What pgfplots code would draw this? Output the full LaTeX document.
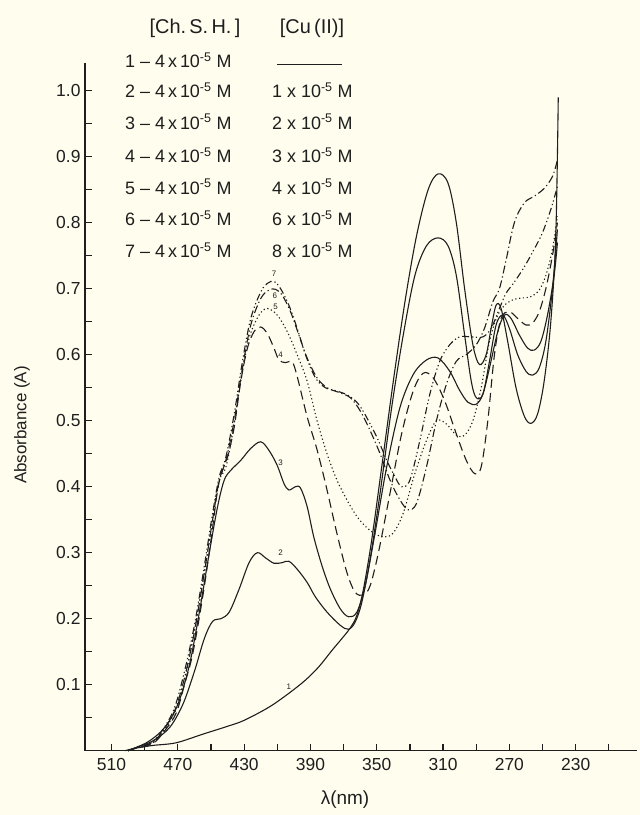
\documentclass[border=0pt]{standalone}
\usepackage{pgfplots}
\pgfplotsset{compat=1.18}
\usepackage{fontspec}
\setmainfont{Liberation Sans}
\definecolor{paper}{HTML}{FFFDEE}
\definecolor{ink}{HTML}{1E1E1E}

\begin{document}
\begin{tikzpicture}[x=1bp,y=1bp]
\fill[paper] (-85,-64.3) rectangle (555,750.7);
\begin{axis}[
  at={(0,0)}, anchor=south west,
  scale only axis,
  width=552bp, height=687.7bp,
  xmin=193, xmax=526, x dir=reverse,
  ymin=0, ymax=1.042,
  axis x line=bottom, axis y line=left,
  axis line style={ink, line width=1.5bp, -},
  tick align=inside,
  major tick length=7bp, minor tick length=7bp,
  every tick/.style={ink, line width=1.2bp},
  xtick={230,270,310,350,390,430,470,510},
  minor xtick={210,250,290,330,370,410,450,490},
  ytick={0.1,0.2,0.3,0.4,0.5,0.6,0.7,0.8,0.9,1.0},
  minor ytick={0.05,0.15,0.25,0.35,0.45,0.55,0.65,0.75,0.85,0.95},
  /pgf/number format/assume math mode=true,
  y tick label style={/pgf/number format/fixed, /pgf/number format/fixed zerofill, /pgf/number format/precision=1, xshift=-1bp},
  tick label style={font=\fontsize{17.5}{17.5}\selectfont, text=ink},
  x tick label style={yshift=-4bp},
  every axis plot/.append style={ink, line width=1.1bp, smooth, tension=0.55, no marks},
  clip=false,
]
% 1: ligand only
\addplot[solid] coordinates {(502,0) (495,0.004) (485,0.008) (471,0.012) (455,0.025) (440,0.037) (430,0.046) (415,0.066) (403,0.087) (393,0.107) (385,0.127) (377,0.152) (370,0.173) (366,0.186) (362,0.205) (358,0.245) (353,0.32) (347,0.43) (340,0.56) (333,0.68) (326,0.78) (319,0.85) (313,0.874) (307,0.86) (302,0.8) (297,0.7) (292,0.615) (288,0.585) (284,0.6) (281,0.64) (278,0.675) (275,0.67) (271,0.62) (266,0.55) (261,0.507) (257,0.496) (253,0.51) (249,0.56) (245,0.65) (242,0.78) (240.5,0.99)};
% 2
\addplot[solid] coordinates {(500,0) (495,0.005) (485,0.015) (475,0.035) (467,0.07) (460,0.12) (454,0.17) (449,0.196) (444,0.2) (439,0.21) (433,0.245) (427,0.285) (422,0.30) (417,0.292) (412,0.284) (407,0.285) (403,0.287) (398,0.275) (392,0.255) (387,0.233) (380,0.21) (372,0.19) (367,0.184) (363,0.195) (359,0.225) (354,0.29) (348,0.39) (341,0.52) (334,0.63) (327,0.72) (320,0.765) (313,0.777) (307,0.765) (302,0.72) (297,0.63) (293,0.56) (290,0.535) (286,0.54) (282,0.59) (278,0.645) (274,0.66) (270,0.64) (265,0.6) (260,0.575) (256,0.569) (252,0.58) (248,0.62) (244,0.7) (241,0.79)};
% 3
\addplot[solid] coordinates {(500,0) (495,0.005) (487,0.015) (478,0.035) (470,0.07) (463,0.13) (457,0.21) (451,0.3) (446,0.37) (442,0.41) (438,0.425) (432,0.44) (426,0.458) (420,0.468) (415,0.455) (410,0.432) (406,0.405) (403,0.395) (399,0.4) (396,0.398) (392,0.37) (388,0.324) (383,0.28) (378,0.245) (372,0.215) (367,0.203) (362,0.21) (357,0.25) (351,0.33) (344,0.43) (336,0.52) (328,0.57) (320,0.592) (313,0.595) (306,0.575) (300,0.546) (295,0.528) (290,0.525) (286,0.54) (282,0.58) (277,0.635) (273,0.66) (269,0.655) (264,0.63) (259,0.61) (255,0.607) (251,0.62) (247,0.66) (243,0.72) (241,0.77)};
% 4
\addplot[dash pattern=on 9bp off 5bp] coordinates {(500,0) (495,0.004) (485,0.011) (478,0.03) (471,0.057) (466,0.1) (461,0.147) (455,0.233) (450,0.319) (446,0.395) (443,0.425) (440,0.445) (436,0.49) (432,0.56) (428,0.61) (424,0.635) (420,0.642) (416,0.632) (412,0.61) (409,0.592) (405,0.588) (401,0.589) (398,0.567) (392,0.506) (386,0.456) (380,0.395) (374,0.329) (368,0.27) (363,0.24) (358,0.236) (354,0.25) (349,0.3) (342,0.39) (335,0.48) (328,0.545) (322,0.572) (316,0.565) (309,0.53) (302,0.48) (296,0.44) (291,0.42) (287,0.43) (283,0.5) (279,0.6) (275,0.655) (270,0.665) (265,0.655) (260,0.645) (256,0.648) (252,0.665) (248,0.7) (244,0.75) (241,0.8)};
% 5
\addplot[dash pattern=on 1.2bp off 2.6bp] coordinates {(500,0) (495,0.005) (485,0.012) (477,0.035) (470,0.07) (464,0.13) (458,0.21) (452,0.3) (448,0.37) (445,0.41) (441,0.43) (437,0.48) (432,0.56) (427,0.625) (421,0.66) (416,0.67) (410,0.66) (404,0.635) (398,0.6) (392,0.56) (386,0.5) (380,0.45) (374,0.41) (368,0.38) (362,0.355) (356,0.338) (350,0.327) (345,0.324) (340,0.33) (334,0.36) (327,0.42) (320,0.47) (314,0.5) (308,0.495) (302,0.478) (297,0.478) (292,0.5) (287,0.55) (282,0.62) (277,0.66) (272,0.677) (267,0.684) (262,0.686) (257,0.688) (252,0.698) (248,0.72) (244,0.76) (241,0.81)};
% 6
\addplot[dash pattern=on 8bp off 3bp on 1.2bp off 3bp] coordinates {(500,0) (495,0.004) (486,0.011) (479,0.03) (472,0.06) (466,0.11) (460,0.18) (454,0.27) (449,0.35) (445,0.41) (441,0.44) (436,0.5) (431,0.58) (426,0.645) (420,0.685) (415,0.698) (411,0.699) (407,0.69) (402,0.665) (397,0.63) (392,0.595) (386,0.565) (380,0.55) (373,0.543) (366,0.535) (360,0.515) (354,0.485) (348,0.45) (342,0.41) (336,0.38) (331,0.365) (326,0.375) (320,0.43) (314,0.5) (308,0.555) (302,0.59) (296,0.6) (290,0.615) (285,0.64) (280,0.68) (276,0.70) (272,0.743) (267,0.8) (261,0.83) (255,0.84) (249,0.852) (244,0.87) (241,0.895)};
% 7
\addplot[dash pattern=on 7bp off 3bp on 1.2bp off 2.5bp on 1.2bp off 3bp] coordinates {(500,0) (495,0.005) (486,0.012) (479,0.032) (472,0.065) (466,0.12) (460,0.19) (454,0.28) (449,0.36) (445,0.415) (441,0.445) (436,0.51) (431,0.59) (426,0.655) (420,0.695) (416,0.708) (412,0.711) (408,0.7) (403,0.675) (398,0.64) (393,0.6) (387,0.565) (381,0.55) (374,0.545) (367,0.538) (361,0.525) (355,0.5) (349,0.47) (344,0.44) (339,0.415) (335,0.4) (330,0.41) (324,0.47) (318,0.54) (312,0.59) (306,0.615) (300,0.627) (293,0.627) (286,0.627) (281,0.64) (276,0.67) (272,0.693) (267,0.71) (261,0.733) (255,0.76) (250,0.785) (245,0.82) (241,0.855)};
% curve numbers
\begin{scope}[every node/.style={font=\fontsize{8}{8}\selectfont, text=ink, inner sep=0pt}]
\node at (axis cs:403,0.097) {1};
\node at (axis cs:408,0.300) {2};
\node at (axis cs:408,0.437) {3};
\node at (axis cs:408,0.600) {4};
\node at (axis cs:411,0.672) {5};
\node at (axis cs:411.5,0.690) {6};
\node at (axis cs:412,0.722) {7};
\end{scope}
\end{axis}
% axis titles
\node[rotate=90, font=\fontsize{17}{17}\selectfont, text=ink] at (-63,325.7) {Absorbance (A)};
\node[font=\fontsize{19}{19}\selectfont, text=ink] at (260,-49.3) {λ(nm)};
% concentration table
\begin{scope}[every node/.style={font=\fontsize{18}{18}\selectfont, text=ink, inner sep=0pt}]
\node[font=\fontsize{20}{20}\selectfont] at (110,722.7) {[Ch.\,S.\,H.\,]};
\node[font=\fontsize{20}{20}\selectfont] at (227,722.7) {[Cu\,(II)]};
\node[anchor=west] at (40,690.7) {1 -- 4\,x\,10\textsuperscript{-5} M};
\draw[ink, line width=1.1bp] (192,686) -- (257,686);
\node[anchor=west] at (40,660.7) {2 -- 4\,x\,10\textsuperscript{-5} M};
\node[anchor=west] at (187,660.7) {1 x 10\textsuperscript{-5} M};
\node[anchor=west] at (40,629) {3 -- 4\,x\,10\textsuperscript{-5} M};
\node[anchor=west] at (187,629) {2 x 10\textsuperscript{-5} M};
\node[anchor=west] at (40,595.7) {4 -- 4\,x\,10\textsuperscript{-5} M};
\node[anchor=west] at (187,595.7) {3 x 10\textsuperscript{-5} M};
\node[anchor=west] at (40,564) {5 -- 4\,x\,10\textsuperscript{-5} M};
\node[anchor=west] at (187,564) {4 x 10\textsuperscript{-5} M};
\node[anchor=west] at (40,532.4) {6 -- 4\,x\,10\textsuperscript{-5} M};
\node[anchor=west] at (187,532.4) {6 x 10\textsuperscript{-5} M};
\node[anchor=west] at (40,500.7) {7 -- 4\,x\,10\textsuperscript{-5} M};
\node[anchor=west] at (187,500.7) {8 x 10\textsuperscript{-5} M};
\end{scope}
\pgfresetboundingbox
\path[use as bounding box] (-85,-64.3) rectangle (555,750.7);
\end{tikzpicture}
\end{document}
